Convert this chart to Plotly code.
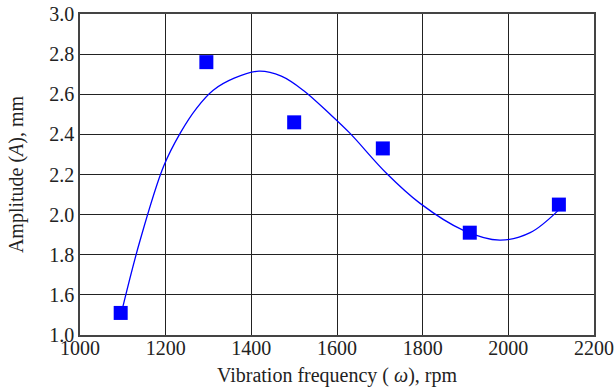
import plotly.graph_objects as go

# measured points
freq = [1095, 1295, 1500, 1707, 1910, 2118]
amp = [1.51, 2.76, 2.46, 2.33, 1.91, 2.05]

# fitted curve
curve_x = [1100, 1140, 1195, 1235, 1272, 1311, 1360, 1418, 1470, 1521, 1584, 1630,
           1716, 1794, 1894, 1980, 2051, 2116]
curve_y = [1.54, 1.87, 2.24, 2.41, 2.53, 2.62, 2.68, 2.715, 2.69, 2.62, 2.50, 2.406,
           2.205, 2.056, 1.923, 1.873, 1.91, 2.02]

y_tickvals = [1.4, 1.6, 1.8, 2.0, 2.2, 2.4, 2.6, 2.8, 3.0]
y_ticktext = ["1.0", "1.6", "1.8", "2.0", "2.2", "2.4", "2.6", "2.8", "3.0"]
x_tickvals = [1000, 1200, 1400, 1600, 1800, 2000, 2200]

fig = go.Figure()
fig.add_trace(go.Scatter(x=curve_x, y=curve_y, mode="lines",
                         line=dict(color="#0000ff", width=1.3, shape="spline", smoothing=1.0),
                         showlegend=False, hoverinfo="skip"))
fig.add_trace(go.Scatter(x=freq, y=amp, mode="markers",
                         marker=dict(symbol="square", size=14, color="#0000ff"),
                         showlegend=False))

FAM = "Liberation Serif, Times New Roman, serif"
font = dict(family=FAM, size=20, color="#222222")
fig.update_layout(
    width=614, height=391,
    margin=dict(l=80, r=20, t=14, b=56, autoexpand=False),
    paper_bgcolor="white", plot_bgcolor="white",
    font=font,
    xaxis=dict(range=[1000, 2200], tickvals=x_tickvals, showgrid=True, automargin=False,
               gridcolor="#222222", gridwidth=1.3, showline=True, linecolor="#444444",
               linewidth=1.5, mirror=True, ticks="", zeroline=False,
               ticklabelstandoff=-6,
               title=dict(text="Vibration frequency ( <i>ω</i>), rpm", standoff=10,
                          font=dict(family=FAM, size=20, color="#222222")),
               tickfont=dict(family=FAM, size=20, color="#222222")),
    yaxis=dict(range=[1.4, 3.0], tickvals=y_tickvals, ticktext=y_ticktext, showgrid=True,
               automargin=False,
               gridcolor="#222222", gridwidth=1.3, showline=True, linecolor="#444444",
               linewidth=1.5, mirror=True, ticks="", zeroline=False,
               title=dict(text="Amplitude (<i>A</i>), mm", standoff=20,
                          font=dict(family=FAM, size=20, color="#222222")),
               tickfont=dict(family=FAM, size=20, color="#222222")),
)
fig.write_html("out.html")
